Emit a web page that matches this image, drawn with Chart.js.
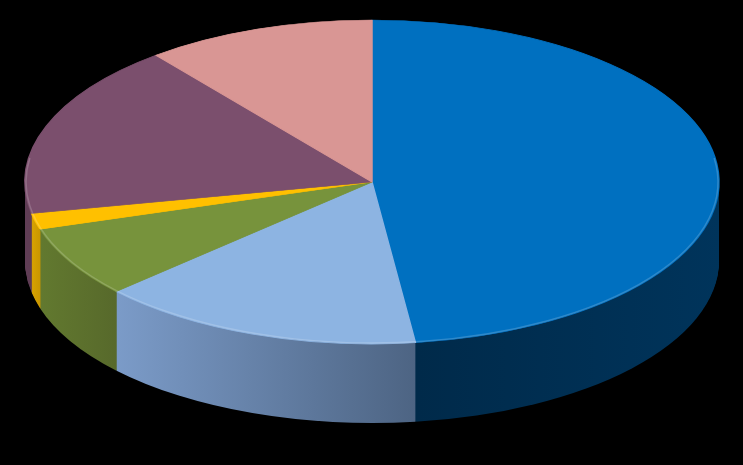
<!DOCTYPE html>
<html>
<head>
<meta charset="utf-8">
<script src="https://cdn.jsdelivr.net/npm/chart.js@4.4.1/dist/chart.umd.min.js"></script>
<style>
  html, body { margin: 0; padding: 0; background: #000; }
  #wrap { width: 743px; height: 465px; }
</style>
</head>
<body>
<div id="wrap"><canvas id="pie-3d"></canvas></div>
<script>
  // datos del gráfico
  const categorias = ['Categoría 1', 'Categoría 2', 'Categoría 3', 'Categoría 4', 'Categoría 5', 'Categoría 6'];
  const valores = [48, 15.2, 7.1, 1.6, 17.4, 10.7];
  const coloresCara = ['#0070C0', '#8DB4E2', '#77933C', '#FFC000', '#7B4F6D', '#D99694'];
  const coloresLado = [['#002A4A', '#00345B'], ['#7B9BC8', '#4D6483'], ['#62792F', '#57692B'], ['#D9A300', '#C89500'], ['#5F3D55', '#5F3D55'], ['#A87472', '#A87472']];

  // geometría de la elipse (vista inclinada)
  const CX = 372, CY = 182, RX = 347, RY = 162, PROF = 79;

  const pie3d = {
    id: 'pie3d',
    beforeDatasetsDraw(chart) {
      const ctx = chart.ctx;
      const arcs = chart.getDatasetMeta(0).data;

      // degradado horizontal por porción, sólo la parte frontal
      const grads = arcs.map((a, i) => {
        let minX = Infinity, maxX = -Infinity;
        for (let t = a.startAngle; t <= a.endAngle; t += 0.01) {
          if (Math.sin(t) < 0) continue;
          const x = CX + RX * Math.cos(t);
          minX = Math.min(minX, x);
          maxX = Math.max(maxX, x);
        }
        if (!isFinite(minX)) return coloresLado[i][0];
        const g = ctx.createLinearGradient(minX, 0, maxX + 1, 0);
        g.addColorStop(0, coloresLado[i][0]);
        g.addColorStop(1, coloresLado[i][1]);
        return g;
      });

      // paredes laterales: capas apiladas hacia arriba
      for (let d = PROF; d >= 1; d--) {
        arcs.forEach((a, i) => {
          ctx.beginPath();
          ctx.moveTo(CX, CY + d);
          ctx.ellipse(CX, CY + d, RX, RY, 0, a.startAngle, a.endAngle);
          ctx.closePath();
          ctx.fillStyle = grads[i];
          ctx.fill();
        });
      }

      // la cara superior la dibuja Chart.js, aplastada en elipse
      const a0 = arcs[0];
      const r = a0.outerRadius;
      ctx.save();
      ctx.translate(CX, CY);
      ctx.scale(RX / r, RY / r);
      ctx.translate(-a0.x, -a0.y);
    },
    afterDatasetsDraw(chart) {
      const ctx = chart.ctx;
      ctx.restore();
      // brillo suave en el borde frontal
      ctx.save();
      ctx.beginPath();
      ctx.ellipse(CX, CY, RX - 1, RY - 1, 0, -0.15, Math.PI + 0.15);
      ctx.strokeStyle = 'rgba(255,255,255,0.18)';
      ctx.lineWidth = 1.5;
      ctx.stroke();
      ctx.restore();
    }
  };

  const ctx = document.getElementById('pie-3d').getContext('2d');

  const chart = new Chart(ctx, {
    type: 'pie',
    data: {
      labels: categorias,
      datasets: [{
        data: valores,
        backgroundColor: coloresCara,
        borderColor: coloresCara,
        borderWidth: 1,
        clip: false
      }]
    },
    options: {
      responsive: true,
      maintainAspectRatio: false,
      animation: false,
      layout: { padding: 0 },
      plugins: {
        legend: { display: false },
        tooltip: { enabled: false }
      }
    },
    plugins: [pie3d]
  });
</script>
</body>
</html>
